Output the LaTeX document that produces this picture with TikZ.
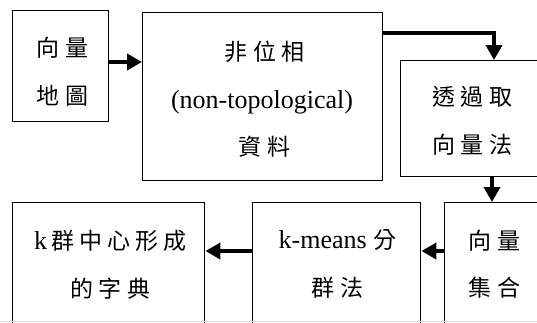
\documentclass[tikz,border=0pt]{standalone}
\usepackage{fontspec}
\setmainfont{Liberation Serif}
\newfontfamily\cjk[LetterSpace=22]{Noto Sans CJK TC}
\usetikzlibrary{arrows.meta}
\newcommand\zh[1]{{\fontsize{23}{47.5}\cjk #1\kern-5pt}}
\tikzset{
  box/.style={draw=black, line width=1.4pt, rectangle, inner sep=0pt, anchor=north west},
  txt/.style={align=center, inner sep=0pt, font=\fontsize{26}{47.5}\selectfont},
  arr/.style={line width=4.5pt, -{Triangle[length=15pt,width=16pt]}, line join=miter}
}
\begin{document}
\begin{tikzpicture}[x=1pt,y=-1pt]
\useasboundingbox (0,0) rectangle (537,322);
\clip (0,0) rectangle (537,322);
\fill[white] (0,0) rectangle (537,322);
% boxes
\node[box, minimum width=96pt, minimum height=111pt] (A) at (12,10) {};
\node[box, minimum width=240pt, minimum height=168pt] (B) at (142,12) {};
\node[box, minimum width=160pt, minimum height=116pt] (C) at (400,60) {};
\node[box, minimum width=120pt, minimum height=140pt] (D) at (444,202) {};
\node[box, minimum width=168pt, minimum height=140pt] (E) at (252,202) {};
\node[box, minimum width=192pt, minimum height=140pt] (F) at (12,202) {};
% texts
\node[txt] (At) at (60,71.5) {\zh{向量}\\\zh{地圖}};
\node[txt] (Bt) at (262,99.5) {\zh{非位相}\\(non-topological)\\\zh{資料}};
\node[txt] (Ct) at (470,121) {\zh{透過取}\\\zh{向量法}};
\node[txt] (Dt) at (492,264) {\zh{向量}\\\zh{集合}};
\node[txt] (Et) at (335,264) {k-means \zh{分}\\\zh{群法}};
\node[txt] (Ft) at (108,265) {k\,\zh{群中心形成}\\\zh{的字典}};
% arrows
\draw[arr] (A.east |- {(0,62)}) -- (B.west |- {(0,62)});
\draw[arr] (B.east |- {(0,33)}) -| (C.north -| {(494,0)});
\draw[arr] (C.south -| {(492,0)}) -- (D.north -| {(492,0)});
\draw[arr] (D.west |- {(0,251)}) -- (E.east |- {(0,251)});
\draw[arr] (E.west |- {(0,251)}) -- (F.east |- {(0,251)});
% bottom faint line
\draw[black!12, line width=1pt] (0,321.5) -- (537,321.5);
\end{tikzpicture}
\end{document}
